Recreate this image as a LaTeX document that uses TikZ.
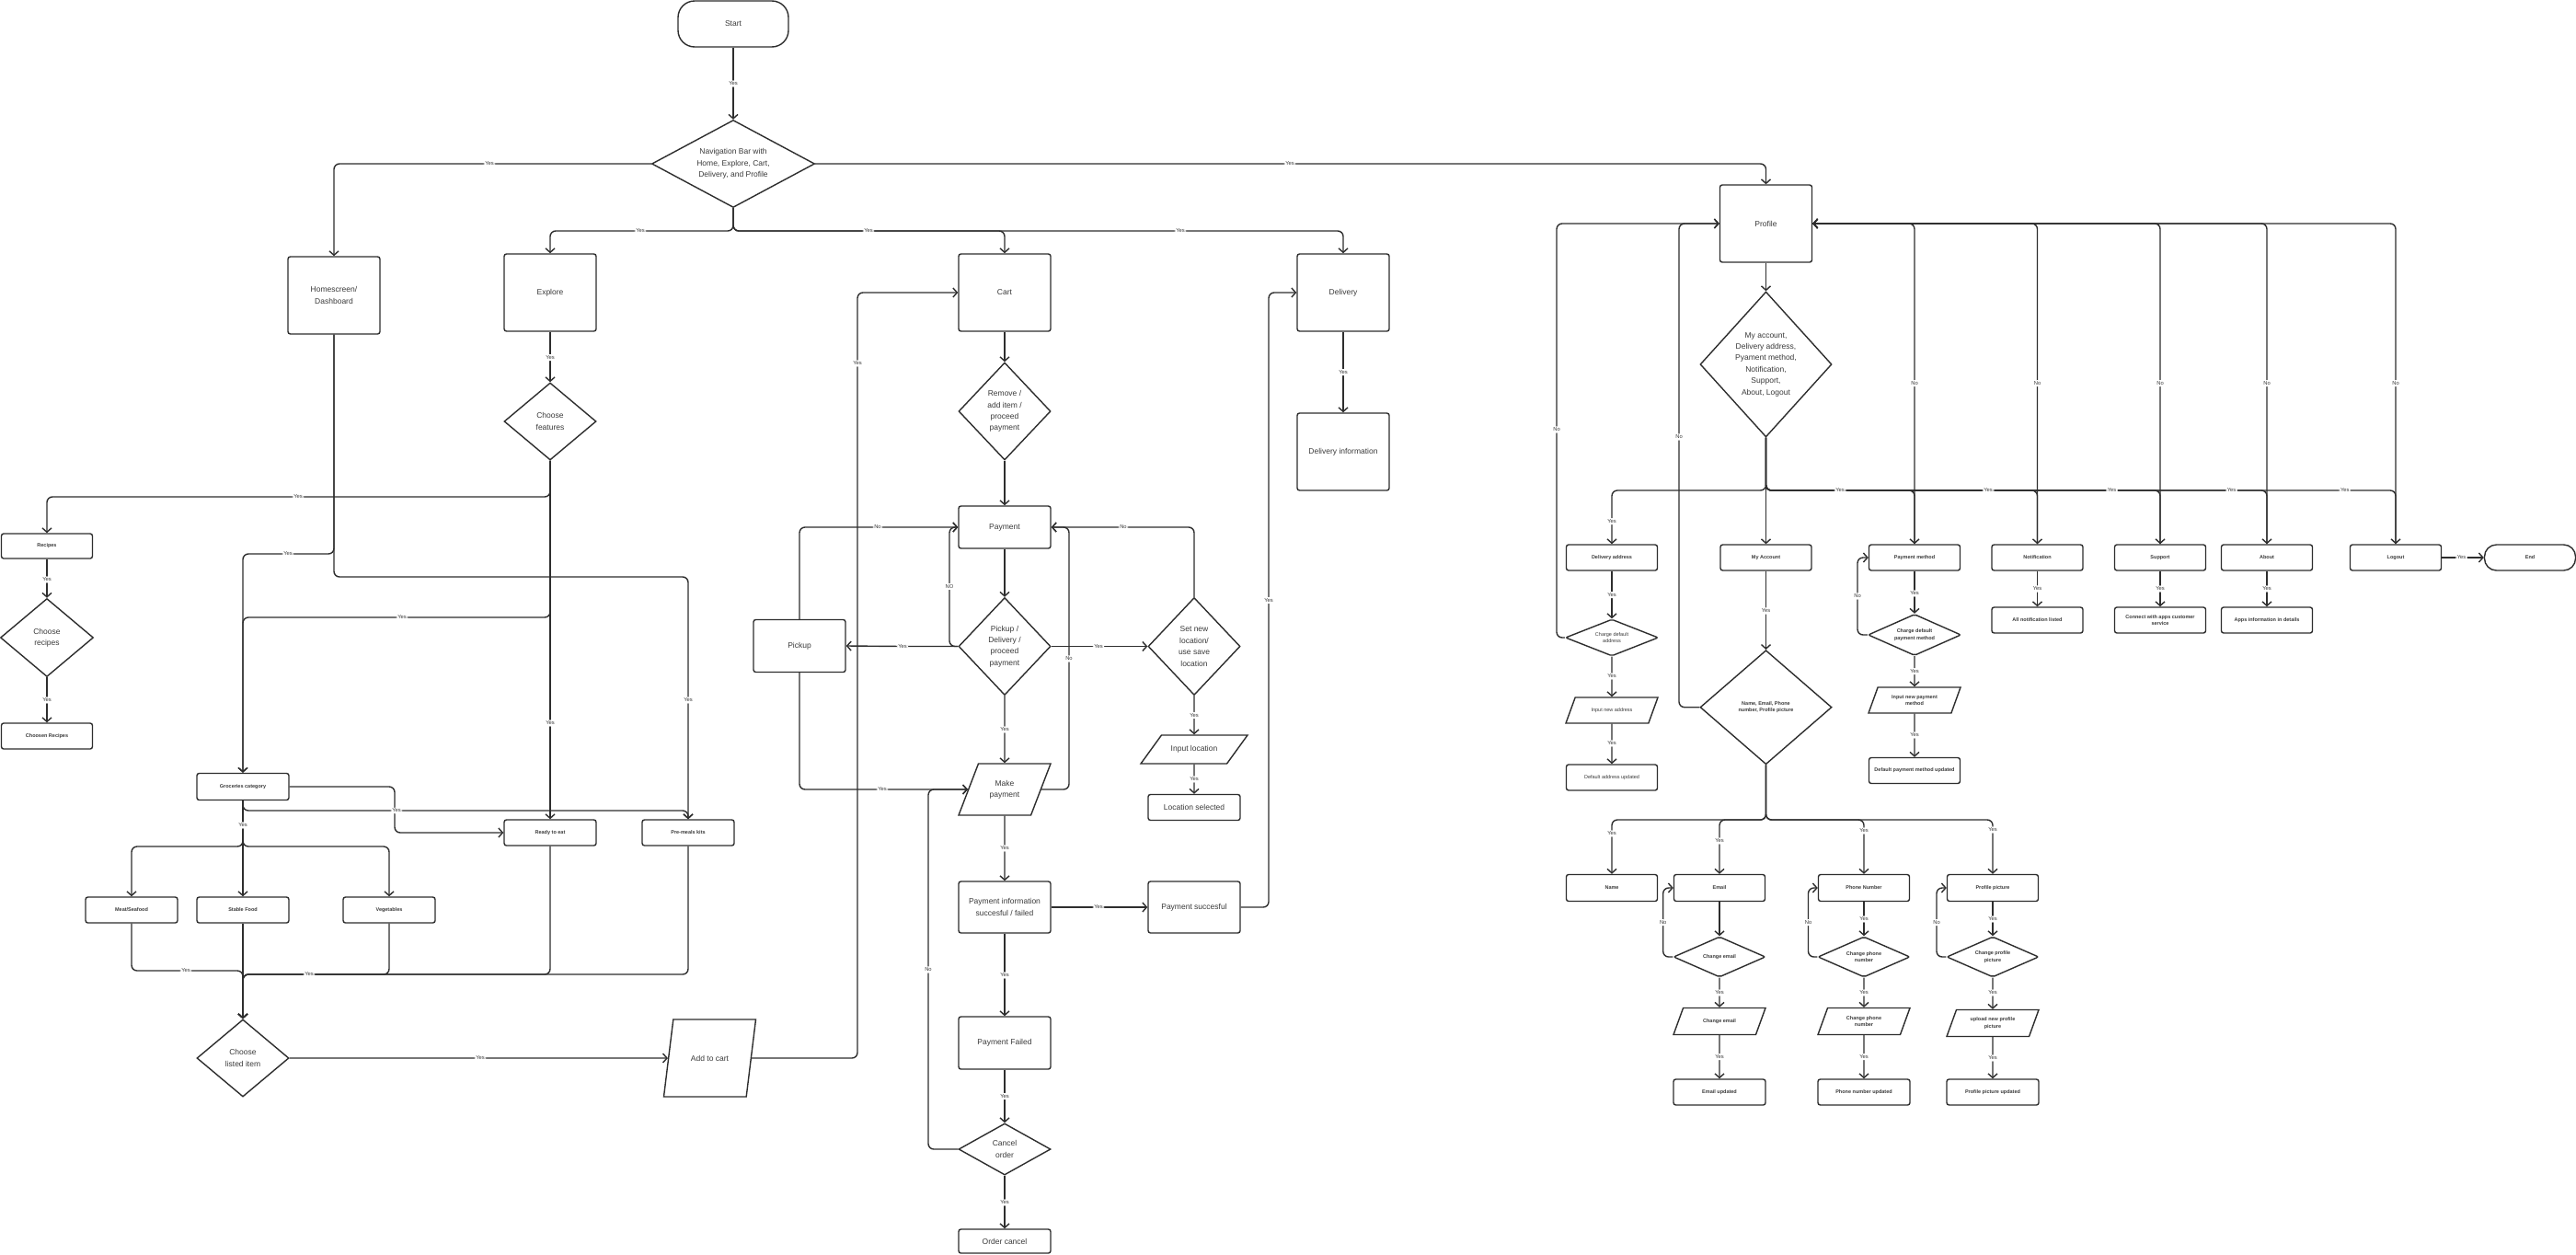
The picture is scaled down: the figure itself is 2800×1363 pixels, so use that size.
\documentclass[tikz,border=0pt]{standalone}
\usepackage{fontspec}
\setmainfont{Liberation Sans}
\usetikzlibrary{shapes.geometric,arrows.meta}
\definecolor{ln}{HTML}{2E2E2E}
\definecolor{tx}{HTML}{3A3A3A}
\begin{document}
\begin{tikzpicture}[x=1pt,y=-1pt,
  >={Straight Barb[length=4.5pt,width=10pt]},
  base/.style={draw=ln, line width=1.4pt, text=tx, align=center},
  bx/.style 2 args={base, rectangle, rounded corners=2.5pt, minimum width=#1, minimum height=#2, inner sep=1pt},
  dm/.style={base, diamond, inner sep=0pt},
  pg/.style={base, trapezium, trapezium stretches body=true, inner xsep=1pt},
  fm/.style={font=\fontsize{8.5}{12.4}\selectfont},
  fs/.style={font=\fontsize{5.5}{7.5}\selectfont\bfseries},
  fr/.style={font=\fontsize{5.5}{7.5}\selectfont},
  cn/.style={draw=ln, line width=1.4pt, ->, rounded corners=6pt},
  lbl/.style={fill=white, inner sep=1.5pt, text=tx, font=\fontsize{5.8}{7}\selectfont},
]
\useasboundingbox[fill=white] (0,0) rectangle (2800,1363);

% ---------------- top / centre ----------------
\node[bx={120pt}{50pt}, rounded corners=18pt, fm] (start) at (797,26) {Start};
\node[dm, fm, minimum width=177pt, minimum height=95pt, aspect=1.86] (nav) at (797,178) {Navigation Bar with\\Home, Explore, Cart,\\Delivery, and Profile};
\node[bx={100pt}{84pt}, fm] (home) at (363,321) {Homescreen/\\Dashboard};
\node[bx={100pt}{84pt}, fm] (explore) at (598,318) {Explore};
\node[bx={100pt}{84pt}, fm] (cart) at (1092,318) {Cart};
\node[bx={100pt}{84pt}, fm] (deliv) at (1460,318) {Delivery};
\node[bx={100pt}{84pt}, fm] (delinfo) at (1460,491) {Delivery information};
\node[dm, fm, minimum width=100pt, minimum height=84pt, aspect=1.19] (feat) at (598,458) {Choose\\features};
\node[dm, fm, minimum width=100pt, minimum height=106pt, aspect=0.94] (remove) at (1092,447) {Remove /\\add item /\\proceed\\payment};
\node[bx={100pt}{46pt}, fm] (payment) at (1092,573) {Payment};
\node[dm, fm, minimum width=100pt, minimum height=106pt, aspect=0.94] (pdp) at (1092,702.5) {Pickup /\\Delivery /\\proceed\\payment};
\node[bx={100pt}{57pt}, fm] (pickup) at (869,702) {Pickup};
\node[dm, fm, minimum width=100pt, minimum height=106pt, aspect=0.94] (setloc) at (1298,702.5) {Set new\\location/\\use save\\location};
\node[pg, fm, minimum width=116pt, minimum height=31pt, inner ysep=11.5pt, trapezium left angle=54, trapezium right angle=126] (inloc) at (1298,814.5) {Input location};
\node[bx={100pt}{28pt}, fm] (locsel) at (1298,877.5) {Location selected};
\node[pg, fm, minimum width=100pt, minimum height=56pt, inner ysep=17.8pt, trapezium left angle=69, trapezium right angle=111] (makepay) at (1092,858) {Make\\payment};
\node[bx={100pt}{56pt}, fm] (payinfo) at (1092,986) {Payment information\\succesful / failed};
\node[bx={100pt}{56pt}, fm] (paysucc) at (1298,986) {Payment succesful};
\node[bx={100pt}{57pt}, fm] (payfail) at (1092,1133.5) {Payment Failed};
\node[dm, fm, minimum width=100pt, minimum height=56pt, aspect=1.79] (cancel) at (1092,1249) {Cancel\\order};
\node[bx={100pt}{26pt}, fm] (ordcancel) at (1092,1349) {Order cancel};

% ---------------- left ----------------
\node[bx={99pt}{27pt}, fs] (recipes) at (51,593.5) {Recipes};
\node[dm, fm, minimum width=101pt, minimum height=85pt, aspect=1.19] (chrec) at (51,693) {Choose\\recipes};
\node[bx={99pt}{28pt}, fs] (chosen) at (51,800) {Choosen Recipes};
\node[bx={100pt}{29pt}, fs] (groc) at (264,855) {Groceries category};
\node[bx={100pt}{28pt}, fs] (ready) at (598,905) {Ready to eat};
\node[bx={100pt}{28pt}, fs] (premeal) at (748,905) {Pre-meals kits};
\node[bx={100pt}{28pt}, fs] (meat) at (143,989) {Meat/Seafood};
\node[bx={100pt}{28pt}, fs] (stable) at (264,989) {Stable Food};
\node[bx={100pt}{28pt}, fs] (veg) at (423,989) {Vegetables};
\node[dm, fm, minimum width=100pt, minimum height=84pt, aspect=1.19] (listed) at (264,1150) {Choose\\listed item};
\node[pg, fm, minimum width=100pt, minimum height=84pt, inner ysep=38.9pt, trapezium left angle=83, trapezium right angle=97] (addcart) at (771.5,1150) {Add to cart};

% ---------------- right (profile) ----------------
\node[bx={100pt}{84pt}, fm] (profile) at (1919.5,243) {Profile};
\node[dm, fm, minimum width=143pt, minimum height=158pt, aspect=0.9, inner sep=-3pt] (pdia) at (1919.5,396) {My account,\\Delivery address,\\Pyament method,\\Notification,\\Support,\\About, Logout};
\node[bx={99pt}{28pt}, fs] (daddr) at (1752,606) {Delivery address};
\node[bx={99pt}{28pt}, fs] (myacc) at (1919.5,606) {My Account};
\node[bx={99pt}{28pt}, fs] (paym) at (2081,606) {Payment method};
\node[bx={99pt}{28pt}, fs] (notif) at (2214.5,606) {Notification};
\node[bx={99pt}{28pt}, fs] (support) at (2348,606) {Support};
\node[bx={99pt}{28pt}, fs] (about) at (2464,606) {About};
\node[bx={99pt}{28pt}, fs] (logout) at (2604,606) {Logout};
\node[bx={99pt}{28pt}, rounded corners=13pt, fs] (endn) at (2750,606) {End};
\node[dm, fr, rounded corners=2pt, minimum width=101pt, minimum height=40pt, aspect=2.5] (chaddr) at (1752,693) {Charge default\\address};
\node[pg, fr, minimum width=100pt, minimum height=28pt, inner ysep=11.4pt, trapezium left angle=70, trapezium right angle=110] (inaddr) at (1752,772) {Input new address};
\node[bx={99pt}{28pt}, fr] (defaddr) at (1752,845) {Default address updated};
\node[dm, fs, minimum width=143pt, minimum height=124pt, aspect=1.15] (namedia) at (1919.5,768.7) {Name, Email, Phone\\number, Profile picture};
\node[dm, fs, rounded corners=2pt, minimum width=101pt, minimum height=45pt, aspect=2.2] (chpay) at (2081,690) {Charge default\\payment method};
\node[pg, fs, minimum width=100pt, minimum height=28pt, inner ysep=8.2pt, trapezium left angle=70, trapezium right angle=110] (inpay) at (2081,761) {Input new payment\\method};
\node[bx={99pt}{28pt}, fs] (defpay) at (2081,837.5) {Default payment method updated};
\node[bx={99pt}{28pt}, fs] (allnotif) at (2214.5,674) {All notification listed};
\node[bx={99pt}{28pt}, fs] (connect) at (2348,674) {Connect with apps customer\\service};
\node[bx={99pt}{28pt}, fs] (appsinfo) at (2464,674) {Apps information in details};
\node[bx={99pt}{29pt}, fs] (name) at (1752,965) {Name};
\node[bx={99pt}{29pt}, fs] (email) at (1869,965) {Email};
\node[bx={99pt}{29pt}, fs] (phone) at (2026,965) {Phone Number};
\node[bx={99pt}{29pt}, fs] (ppic) at (2166,965) {Profile picture};
\node[dm, fs, rounded corners=2pt, minimum width=100pt, minimum height=44pt, aspect=2.27] (chemail) at (1869,1040) {Change email};
\node[dm, fs, rounded corners=2pt, minimum width=100pt, minimum height=44pt, aspect=2.27] (chphone) at (2026,1040) {Change phone\\number};
\node[dm, fs, rounded corners=2pt, minimum width=100pt, minimum height=44pt, aspect=2.27] (chppic) at (2166,1040) {Change profile\\picture};
\node[pg, fs, minimum width=100pt, minimum height=29pt, inner ysep=11.9pt, trapezium left angle=70, trapezium right angle=110] (pemail) at (1869,1110) {Change email};
\node[pg, fs, minimum width=100pt, minimum height=29pt, inner ysep=8.7pt, trapezium left angle=70, trapezium right angle=110] (pphone) at (2026,1110) {Change phone\\number};
\node[pg, fs, minimum width=100pt, minimum height=29pt, inner ysep=8.1pt, trapezium left angle=70, trapezium right angle=110] (pppic) at (2166,1112) {upload new profile\\picture};
\node[bx={100pt}{28pt}, fs] (uemail) at (1869,1187) {Email updated};
\node[bx={100pt}{28pt}, fs] (uphone) at (2026,1187) {Phone number updated};
\node[bx={100pt}{28pt}, fs] (uppic) at (2166,1187) {Profile picture updated};

% ---------------- connectors: top ----------------
\draw[cn] (start.south) -- (797,91) node[lbl]{Yes} -- (nav.north);
\draw[cn] (nav.west) -- (532,178) node[lbl]{Yes} -| (home.north);
\draw[cn] (nav.east) -- (1402,178) node[lbl]{Yes} -| (profile.north);
\draw[cn] (nav.south) |- (696,251) node[lbl]{Yes} -| (explore.north);
\draw[cn] (nav.south) |- (1283,251) node[lbl]{Yes} -| (deliv.north);
\draw[cn] (nav.south) |- (944,251) node[lbl]{Yes} -| (cart.north);

% ---------------- left ----------------
\draw[cn] (explore.south) -- (598,388.6) node[lbl]{Yes} -- (feat.north);
\draw[cn] (feat.south) -- (598,786) node[lbl]{Yes} -- (ready.north);
\draw[cn] (feat.south) |- (324,540) node[lbl]{Yes} -| (recipes.north);
\draw[cn] (feat.south) |- (437,671) node[lbl]{Yes} -| (groc.north);
\draw[cn] (home.south) |- (700,627) -| (748,761) node[lbl]{Yes} -- (premeal.north);
\draw[cn] (home.south) |- (313,602) node[lbl]{Yes} -| (groc.north);
\draw[cn] (recipes.south) -- (51,630) node[lbl]{Yes} -- (chrec.north);
\draw[cn] (chrec.south) -- (51,761) node[lbl]{Yes} -- (chosen.north);
\draw[cn] (groc.east) -| (429,905) -- (ready.west);
\draw[cn] (groc.south) |- (200,920) -| (meat.north);
\draw[cn] (groc.south) |- (340,920) -| (veg.north);
\draw[cn] (groc.south) |- (431,881) node[lbl]{Yes} -| (premeal.north);
\draw[cn] (groc.south) -- (264,897) node[lbl]{Yes} -- (stable.north);
\draw[cn] (premeal.south) |- (300,1059) -| (listed.north);
\draw[cn] (ready.south) |- (300,1059) -| (listed.north);
\draw[cn] (veg.south) |- (336,1059) node[lbl]{Yes} -| (listed.north);
\draw[cn] (stable.south) -- (listed.north);
\draw[cn] (meat.south) |- (202,1055) node[lbl]{Yes} -| (listed.north);
\draw[cn] (listed.east) -- (522,1150) node[lbl]{Yes} -- (addcart.west);
\draw[cn] (addcart.east) -| (932,395) node[lbl]{Yes} |- (cart.west);

% ---------------- cart / payment ----------------
\draw[cn] (cart.south) -- (remove.north);
\draw[cn] (remove.south) -- (payment.north);
\draw[cn] (payment.south) -- (pdp.north);
\draw[cn] (pdp.west) -- (981,702.5) node[lbl]{Yes} -- (pickup.east);
\draw[cn] (pdp.west) -| (1032,637.5) node[lbl]{NO} |- (payment.west);
\draw[cn] (pickup.north) |- (954,573) node[lbl]{No} -- (payment.west);
\draw[cn] (pdp.east) -- (1194,702.5) node[lbl]{Yes} -- (setloc.west);
\draw[cn] (setloc.north) |- (1221,573) node[lbl]{No} -- (payment.east);
\draw[cn] (setloc.south) -- (1298,777.5) node[lbl]{Yes} -- (inloc.north);
\draw[cn] (inloc.south) -- (1298,847) node[lbl]{Yes} -- (locsel.north);
\draw[cn] (pdp.south) -- (1092,793) node[lbl]{Yes} -- (makepay.north);
\draw[cn] (cancel.west) -| (1009,1054) node[lbl]{No} |- (makepay.west);
\draw[cn] (pickup.south) |- (959,858) node[lbl]{Yes} -- (makepay.west);
\draw[cn] (makepay.east) -| (1162,716) node[lbl]{No} |- (payment.east);
\draw[cn] (makepay.south) -- (1092,922) node[lbl]{Yes} -- (payinfo.north);
\draw[cn] (payinfo.east) -- (1194,986) node[lbl]{Yes} -- (paysucc.west);
\draw[cn] (paysucc.east) -| (1379,652.5) node[lbl]{Yes} |- (deliv.west);
\draw[cn] (payinfo.south) -- (1092,1060) node[lbl]{Yes} -- (payfail.north);
\draw[cn] (payfail.south) -- (1092,1191.5) node[lbl]{Yes} -- (cancel.north);
\draw[cn] (cancel.south) -- (1092,1307) node[lbl]{Yes} -- (ordcancel.north);
\draw[cn] (deliv.south) -- (1460,404.6) node[lbl]{Yes} -- (delinfo.north);

% ---------------- profile ----------------
\draw[cn] (profile.south) -- (pdia.north);
\draw[cn] (pdia.south) -- (myacc.north);
\draw[cn] (pdia.south) |- (2548.7,533) node[lbl]{Yes} -| (logout.north);
\draw[cn] (pdia.south) |- (2425.5,533) node[lbl]{Yes} -| (about.north);
\draw[cn] (pdia.south) |- (2295.6,533) node[lbl]{Yes} -| (support.north);
\draw[cn] (pdia.south) |- (2161,533) node[lbl]{Yes} -| (notif.north);
\draw[cn] (pdia.south) |- (2000,533) node[lbl]{Yes} -| (paym.north);
\draw[cn] (pdia.south) |- (1800,533) -| (1752,566.7) node[lbl]{Yes} -- (daddr.north);
\draw[cn] (paym.north) -- (2081,416.7) node[lbl]{No} |- (profile.east);
\draw[cn] (notif.north) -- (2214.5,416.7) node[lbl]{No} |- (profile.east);
\draw[cn] (support.north) -- (2348,416.7) node[lbl]{No} |- (profile.east);
\draw[cn] (about.north) -- (2464,416.7) node[lbl]{No} |- (profile.east);
\draw[cn] (logout.north) -- (2604,416.7) node[lbl]{No} |- (profile.east);
\draw[cn] (logout.east) -- (2675.6,606) node[lbl]{Yes} -- (endn.west);
\draw[cn] (daddr.south) -- (1752,646.7) node[lbl]{Yes} -- (chaddr.north);
\draw[cn] (chaddr.west) -| (1692,467) node[lbl]{No} |- (profile.west);
\draw[cn] (chaddr.south) -- (1752,735) node[lbl]{Yes} -- (inaddr.north);
\draw[cn] (inaddr.south) -- (1752,808) node[lbl]{Yes} -- (defaddr.north);
\draw[cn] (myacc.south) -- (1919.5,664) node[lbl]{Yes} -- (namedia.north);
\draw[cn] (namedia.west) -| (1825,475) node[lbl]{No} |- (profile.west);
\draw[cn] (paym.south) -- (2081,645) node[lbl]{Yes} -- (chpay.north);
\draw[cn] (chpay.west) -| (2019,648) node[lbl]{No} |- (paym.west);
\draw[cn] (chpay.south) -- (2081,729.7) node[lbl]{Yes} -- (inpay.north);
\draw[cn] (inpay.south) -- (2081,799) node[lbl]{Yes} -- (defpay.north);
\draw[cn] (notif.south) -- (2214.5,640) node[lbl]{Yes} -- (allnotif.north);
\draw[cn] (support.south) -- (2348,640) node[lbl]{Yes} -- (connect.north);
\draw[cn] (about.south) -- (2464,640) node[lbl]{Yes} -- (appsinfo.north);
\draw[cn] (namedia.south) |- (1800,891) -| (1752,906) node[lbl]{Yes} -- (name.north);
\draw[cn] (namedia.south) |- (1890,891) -| (1869,914) node[lbl]{Yes} -- (email.north);
\draw[cn] (namedia.south) |- (1950,891) -| (2026,903) node[lbl]{Yes} -- (phone.north);
\draw[cn] (namedia.south) |- (2100,891) -| (2166,902) node[lbl]{Yes} -- (ppic.north);
\draw[cn] (email.south) -- (chemail.north);
\draw[cn] (phone.south) -- (2026,999) node[lbl]{Yes} -- (chphone.north);
\draw[cn] (ppic.south) -- (2166,999) node[lbl]{Yes} -- (chppic.north);
\draw[cn] (chemail.west) -| (1807.7,1002.7) node[lbl]{No} |- (email.west);
\draw[cn] (chphone.west) -| (1965.5,1002.7) node[lbl]{No} |- (phone.west);
\draw[cn] (chppic.west) -| (2105,1002.7) node[lbl]{No} |- (ppic.west);
\draw[cn] (chemail.south) -- (1869,1079) node[lbl]{Yes} -- (pemail.north);
\draw[cn] (chphone.south) -- (2026,1079) node[lbl]{Yes} -- (pphone.north);
\draw[cn] (chppic.south) -- (2166,1079) node[lbl]{Yes} -- (pppic.north);
\draw[cn] (pemail.south) -- (1869,1148.7) node[lbl]{Yes} -- (uemail.north);
\draw[cn] (pphone.south) -- (2026,1148.7) node[lbl]{Yes} -- (uphone.north);
\draw[cn] (pppic.south) -- (2166,1150) node[lbl]{Yes} -- (uppic.north);
\end{tikzpicture}
\end{document}
